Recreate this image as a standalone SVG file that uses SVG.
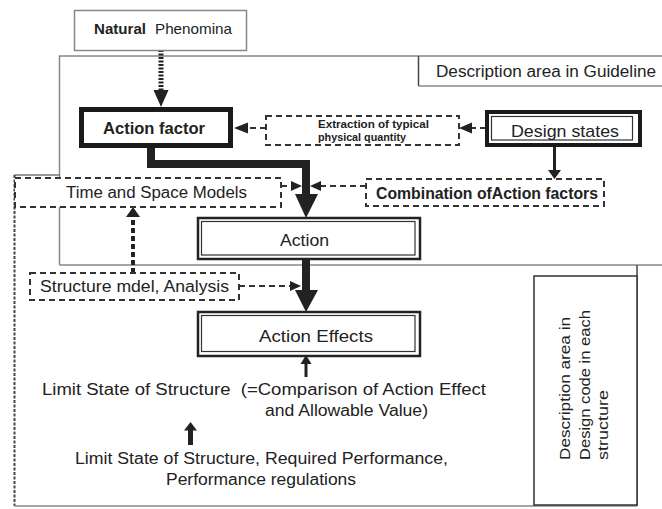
<svg xmlns="http://www.w3.org/2000/svg" width="662" height="509" viewBox="0 0 662 509">
<style>
text{font-family:"Liberation Sans",Arial,sans-serif;fill:#222;}
.t14{font-size:16px;}
.t15{font-size:16px;}
.b{font-weight:bold;}
.region{fill:none;stroke:#888;stroke-width:1.5;}
.dbox{fill:#fff;stroke:#333;stroke-width:2;stroke-dasharray:6 4;}
.dline{fill:none;stroke:#333;stroke-width:2;stroke-dasharray:6 4;}
.thick{fill:none;stroke:#222;stroke-width:8;}
.head{fill:#222;}
</style>

<!-- regions -->
<g id="guideline-area">
<path class="region" d="M59.5,265 V56 H662"/>
<path class="region" d="M59.5,265 H662"/>
<path d="M418.5,56 V86" stroke="#444" stroke-width="1.5" fill="none"/>
<path class="region" d="M418.5,86 H662"/>
<text class="t15" x="436" y="77" textLength="220" lengthAdjust="spacingAndGlyphs">Description area in Guideline</text>
</g>
<g id="design-code-area">
<path d="M14.5,175 H60" stroke="#777" stroke-width="1.5" fill="none"/>
<path d="M14.5,175 V506" stroke="#444" stroke-width="2" stroke-dasharray="3 1.5" fill="none"/>
<path class="region" d="M14.5,506 H637"/>
<path d="M637,265 V506" stroke="#444" stroke-width="1.5" fill="none"/>
</g>

<!-- connectors -->
<g id="connectors">
<path d="M161,50 V92" stroke="#222" stroke-width="5" stroke-dasharray="2 1.5" fill="none"/>
<polygon class="head" points="153.5,90 168.5,90 161,107"/>
<path class="dline" d="M266,128 H246"/>
<polygon class="head" points="248,122.5 248,133.5 234,128"/>
<path class="dline" d="M486,128 H470"/>
<polygon class="head" points="472,122.5 472,133.5 459,128"/>
<path d="M554.5,147 V172" stroke="#222" stroke-width="3" fill="none"/>
<polygon class="head" points="548,170 561,170 554.5,179"/>
<path class="thick" d="M151,147 V164 H306 V196"/>
<polygon class="head" points="295,194 318,194 306,218"/>
<path class="dline" d="M281,186 H292"/>
<polygon class="head" points="291,181 291,191 302,186"/>
<path class="dline" d="M366,186 H320"/>
<polygon class="head" points="321,181 321,191 310,186"/>
<path class="thick" d="M306,259 V292"/>
<polygon class="head" points="295,290 318,290 306,312"/>
<path d="M133,273 V216" stroke="#222" stroke-width="4" stroke-dasharray="5 3" fill="none"/>
<polygon class="head" points="126,217 140,217 133,207"/>
<path class="dline" d="M239,286 H291"/>
<polygon class="head" points="290,281 290,291 301,286"/>
<path d="M306,377 V362" stroke="#222" stroke-width="3" fill="none"/>
<polygon class="head" points="300.5,364 311.5,364 306,355"/>
<path d="M190.5,445 V428" stroke="#222" stroke-width="5" fill="none"/>
<polygon class="head" points="184,430.5 197,430.5 190.5,422"/>
</g>

<!-- nodes -->
<g id="natural-phenomina">
<rect x="74.5" y="10.5" width="172" height="40" fill="#fff" stroke="#888" stroke-width="1.5"/>
<text class="b" font-size="15" x="94" y="34" textLength="52" lengthAdjust="spacingAndGlyphs">Natural</text>
<text font-size="15" x="155" y="34" textLength="77" lengthAdjust="spacingAndGlyphs">Phenomina</text>
</g>
<g id="action-factor">
<rect x="81.5" y="109.5" width="149" height="36" fill="#fff" stroke="#1a1a1a" stroke-width="5"/>
<text class="t15 b" x="103" y="134" textLength="102" lengthAdjust="spacingAndGlyphs">Action factor</text>
</g>
<g id="extraction">
<rect class="dbox" x="266" y="116" width="193" height="29"/>
<text class="b" font-size="10.5" x="318" y="128" textLength="111" lengthAdjust="spacingAndGlyphs">Extraction of typical</text>
<text class="b" font-size="10.5" x="318" y="141" textLength="88" lengthAdjust="spacingAndGlyphs">physical quantity</text>
</g>
<g id="design-states">
<rect x="487" y="112" width="153" height="33" fill="#fff" stroke="#1a1a1a" stroke-width="4"/>
<rect x="491.5" y="116.5" width="141" height="23.5" fill="none" stroke="#333" stroke-width="1.2"/>
<text font-size="17" x="511" y="137" textLength="108" lengthAdjust="spacingAndGlyphs">Design states</text>
</g>
<g id="combination">
<rect class="dbox" x="366" y="179" width="238" height="27"/>
<text class="t15 b" x="376" y="199" textLength="222" lengthAdjust="spacingAndGlyphs">Combination ofAction factors</text>
</g>
<g id="time-space-models">
<rect class="dbox" x="15" y="178" width="266" height="29"/>
<text class="t14" x="66" y="198" textLength="181" lengthAdjust="spacingAndGlyphs">Time and Space Models</text>
</g>
<g id="action">
<rect x="198" y="218" width="222" height="41" fill="#fff" stroke="#222" stroke-width="2.5"/>
<rect x="201.5" y="221.5" width="213.5" height="33.5" fill="none" stroke="#333" stroke-width="1.2"/>
<text class="t15" x="280" y="246" textLength="49" lengthAdjust="spacingAndGlyphs">Action</text>
</g>
<g id="structure-model">
<rect class="dbox" x="30" y="273" width="209" height="27"/>
<text class="t14" x="40" y="292" textLength="189" lengthAdjust="spacingAndGlyphs">Structure mdel, Analysis</text>
</g>
<g id="action-effects">
<rect x="198" y="312" width="222" height="44" fill="#fff" stroke="#222" stroke-width="2.5"/>
<rect x="201.5" y="315.5" width="213.5" height="36" fill="none" stroke="#333" stroke-width="1.2"/>
<text class="t15" x="259" y="342" textLength="114" lengthAdjust="spacingAndGlyphs">Action Effects</text>
</g>
<g id="limit-state-comparison">
<text class="t14" x="42" y="395" textLength="444" lengthAdjust="spacingAndGlyphs" xml:space="preserve">Limit State of Structure  (=Comparison of Action Effect</text>
<text class="t14" x="265" y="416" textLength="163" lengthAdjust="spacingAndGlyphs">and Allowable Value)</text>
</g>
<g id="limit-state-required">
<text class="t14" x="75" y="464" textLength="373" lengthAdjust="spacingAndGlyphs">Limit State of Structure, Required Performance,</text>
<text class="t14" x="166" y="485" textLength="190" lengthAdjust="spacingAndGlyphs">Performance regulations</text>
</g>
<g id="design-code-description">
<rect x="534" y="276" width="103" height="229" fill="#fff" stroke="#333" stroke-width="1.5"/>
<text font-size="15" transform="translate(570,460) rotate(-90)" textLength="143" lengthAdjust="spacingAndGlyphs">Description area in</text>
<text font-size="15" transform="translate(590,460) rotate(-90)" textLength="150" lengthAdjust="spacingAndGlyphs">Design code in each</text>
<text font-size="15" transform="translate(608,460) rotate(-90)" textLength="70" lengthAdjust="spacingAndGlyphs">structure</text>
</g>
</svg>
